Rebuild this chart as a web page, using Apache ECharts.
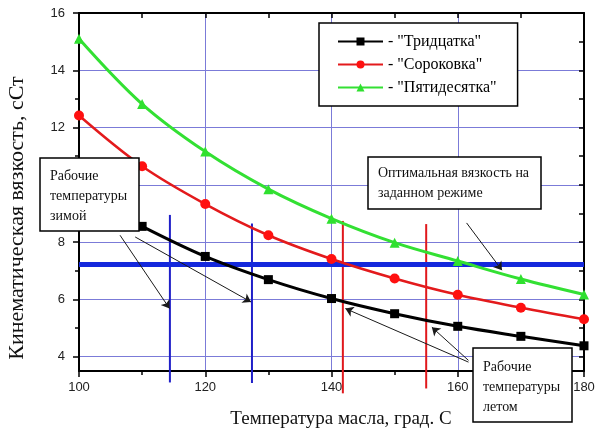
<!DOCTYPE html>
<html>
<head>
<meta charset="utf-8">
<script src="https://cdn.jsdelivr.net/npm/echarts@6/dist/echarts.min.js"></script>
<style>html,body{margin:0;padding:0;background:#fff;}#chart{width:600px;height:433px;}</style>
</head>
<body>
<div id="chart"></div>
<script>
// ---- data ----
const temps = [100, 110, 120, 130, 140, 150, 160, 170, 180];
const tridcatka = [null, 8.55, 7.5, 6.69, 6.03, 5.5, 5.06, 4.71, 4.38];
const sorokovka = [12.42, 10.65, 9.33, 8.24, 7.41, 6.73, 6.16, 5.71, 5.31];
const pyatidesyatka = [15.1, 12.82, 11.16, 9.85, 8.82, 7.98, 7.34, 6.71, 6.17];
const seriesNames = ['Тридцатка', 'Сороковка', 'Пятидесятка'];
const optimalViscosity = 7.22;
const winterTemps = [114.4, 127.4];
const winterTop = [8.95, 8.65];
const winterBottom = [3.1, 3.08];
const summerTemps = [141.8, 155.0];
const summerTop = [8.74, 8.63];
const summerBottom = [2.72, 2.89];
const yLabelValues = [4, 6, 8, 10, 12, 14, 16];
const yMinorValues = [5, 7, 9, 11, 13, 15];
const yAllValues = [4, 5, 6, 7, 8, 9, 10, 11, 12, 13, 14, 15, 16];
// annotation arrows: [fromX, fromY, toX, toY]
const arrows = [
  [106.5, 8.24, 114.35, 5.68],
  [108.9, 8.18, 127.25, 5.91],
  [161.7, 3.81, 142.2, 5.68],
  [161.7, 3.87, 155.9, 5.03],
  [161.4, 8.67, 167.0, 7.02]
];

const chart = echarts.init(document.getElementById('chart'));
const serif = '"Liberation Serif", "Times New Roman", serif';
const sans = '"Liberation Sans", Arial, sans-serif';
const toPairs = arr => temps.map((t, i) => [t, arr[i]]);

const vertLine = (x, top, bottom, color) => ({
  type: 'line', xAxisIndex: 0, yAxisIndex: 0, clip: false, silent: true,
  symbol: 'none', data: [[x, top], [x, bottom]],
  lineStyle: { color: color, width: 2 }, z: 2
});

const series = [];
winterTemps.forEach((x, i) => series.push(vertLine(x, winterTop[i], winterBottom[i], '#1f1fc8')));
summerTemps.forEach((x, i) => series.push(vertLine(x, summerTop[i], summerBottom[i], '#e0181c')));
series.push({
  type: 'line', xAxisIndex: 0, yAxisIndex: 0, symbol: 'none', silent: true,
  data: [[100, optimalViscosity], [180, optimalViscosity]],
  lineStyle: { color: '#1428dc', width: 5 }, z: 3
});
series.push({
  name: seriesNames[0], type: 'line', data: toPairs(tridcatka), smooth: 0.35,
  symbol: 'rect', symbolSize: 9, itemStyle: { color: '#000' },
  lineStyle: { color: '#000', width: 3 }, z: 5
});
series.push({
  name: seriesNames[1], type: 'line', data: toPairs(sorokovka), smooth: 0.35,
  symbol: 'circle', symbolSize: 10, itemStyle: { color: '#ff1010' },
  lineStyle: { color: '#e31a1c', width: 2.5 }, z: 5
});
series.push({
  name: seriesNames[2], type: 'line', data: toPairs(pyatidesyatka), smooth: 0.35,
  symbol: 'triangle', symbolSize: 10, itemStyle: { color: '#2fe02f' },
  lineStyle: { color: '#33e033', width: 3 }, z: 5
});
series.push({
  type: 'lines', coordinateSystem: 'cartesian2d', xAxisIndex: 0, yAxisIndex: 0,
  silent: true, symbol: ['none', 'arrow'], symbolSize: 8,
  data: arrows.map(a => ({ coords: [[a[0], a[1]], [a[2], a[3]]] })),
  lineStyle: { color: '#1a1a1a', width: 1, opacity: 1 }, z: 6
});

const box = (x, y, w, h, text, tx, ty, lh) => ([
  { type: 'rect', z: 100, zlevel: 1, shape: { x: x, y: y, width: w, height: h },
    style: { fill: '#fff', stroke: '#000', lineWidth: 1.5 } },
  { type: 'text', z: 101, zlevel: 1, x: tx, y: ty,
    style: { text: text, font: '14px ' + serif, fill: '#111', lineHeight: lh } }
]);

chart.setOption({
  animation: false,
  backgroundColor: '#fff',
  grid: { left: 79, right: 16, top: 13, bottom: 62 },
  legend: {
    data: seriesNames, orient: 'vertical', left: 319, top: 23,
    padding: [9, 21, 9, 18], itemWidth: 45, itemHeight: 10, itemGap: 4,
    borderColor: '#000', borderWidth: 1.5, backgroundColor: '#fff',
    formatter: n => '- "' + n + '"',
    textStyle: { fontFamily: serif, fontSize: 16, color: '#000', lineHeight: 19 },
    z: 50
  },
  xAxis: [
    { type: 'value', min: 100, max: 180, interval: 20, position: 'bottom',
      axisLine: { lineStyle: { color: '#000', width: 2 } },
      axisTick: { length: 6, lineStyle: { color: '#000', width: 1.5 } },
      minorTick: { show: true, splitNumber: 2, length: 4, lineStyle: { color: '#000', width: 1.5 } },
      axisLabel: { margin: 10, fontFamily: sans, fontSize: 13, color: '#222' },
      splitLine: { show: true, lineStyle: { color: '#7b7bd8', width: 1 } } },
    { type: 'value', min: 100, max: 180, interval: 20, position: 'top',
      axisLine: { show: true, lineStyle: { color: '#000', width: 2 } },
      axisTick: { show: true, inside: true, length: 5, lineStyle: { color: '#000', width: 1.5 } },
      minorTick: { show: true, splitNumber: 2, length: 5, lineStyle: { color: '#000', width: 1.5 } },
      axisLabel: { show: false }, splitLine: { show: false } }
  ],
  yAxis: [
    { type: 'value', min: 3.5, max: 16, minInterval: 2, maxInterval: 2, splitNumber: 6, position: 'left',
      axisLine: { show: true, lineStyle: { color: '#000', width: 2 } },
      axisTick: { show: true, customValues: yLabelValues, length: 6, lineStyle: { color: '#000', width: 1.5 } },
      axisLabel: { customValues: yLabelValues, margin: 14, fontFamily: sans, fontSize: 13, color: '#222' },
      splitLine: { show: true, lineStyle: { color: '#7b7bd8', width: 1 } } },
    { type: 'value', min: 3.5, max: 16, position: 'left',
      axisLine: { show: false },
      axisTick: { show: true, customValues: yMinorValues, length: 4, lineStyle: { color: '#000', width: 1.5 } },
      axisLabel: { show: false }, splitLine: { show: false } },
    { type: 'value', min: 3.5, max: 16, position: 'right',
      axisLine: { show: true, lineStyle: { color: '#000', width: 2 } },
      axisTick: { show: true, inside: true, customValues: yAllValues, length: 5, lineStyle: { color: '#000', width: 1.5 } },
      axisLabel: { show: false }, splitLine: { show: false } }
  ],
  series: series,
  graphic: [
    { type: 'text', z: 100, x: 17, y: 218, rotation: Math.PI / 2,
      style: { text: 'Кинематическая вязкость, сСт', font: '22px ' + serif, fill: '#111',
               align: 'center', verticalAlign: 'middle' } },
    { type: 'text', z: 100, x: 341, y: 419,
      style: { text: 'Температура масла, град. С', font: '19px ' + serif, fill: '#111',
               align: 'center', verticalAlign: 'middle' } }
  ].concat(
    box(40, 158, 99, 73, 'Рабочие\nтемпературы\nзимой', 50, 166, 20),
    box(368, 157, 173, 52, 'Оптимальная вязкость на\nзаданном режиме', 378, 163, 20),
    box(473, 348, 99, 74, 'Рабочие\nтемпературы\nлетом', 483, 357, 20)
  )
});
</script>
</body>
</html>
